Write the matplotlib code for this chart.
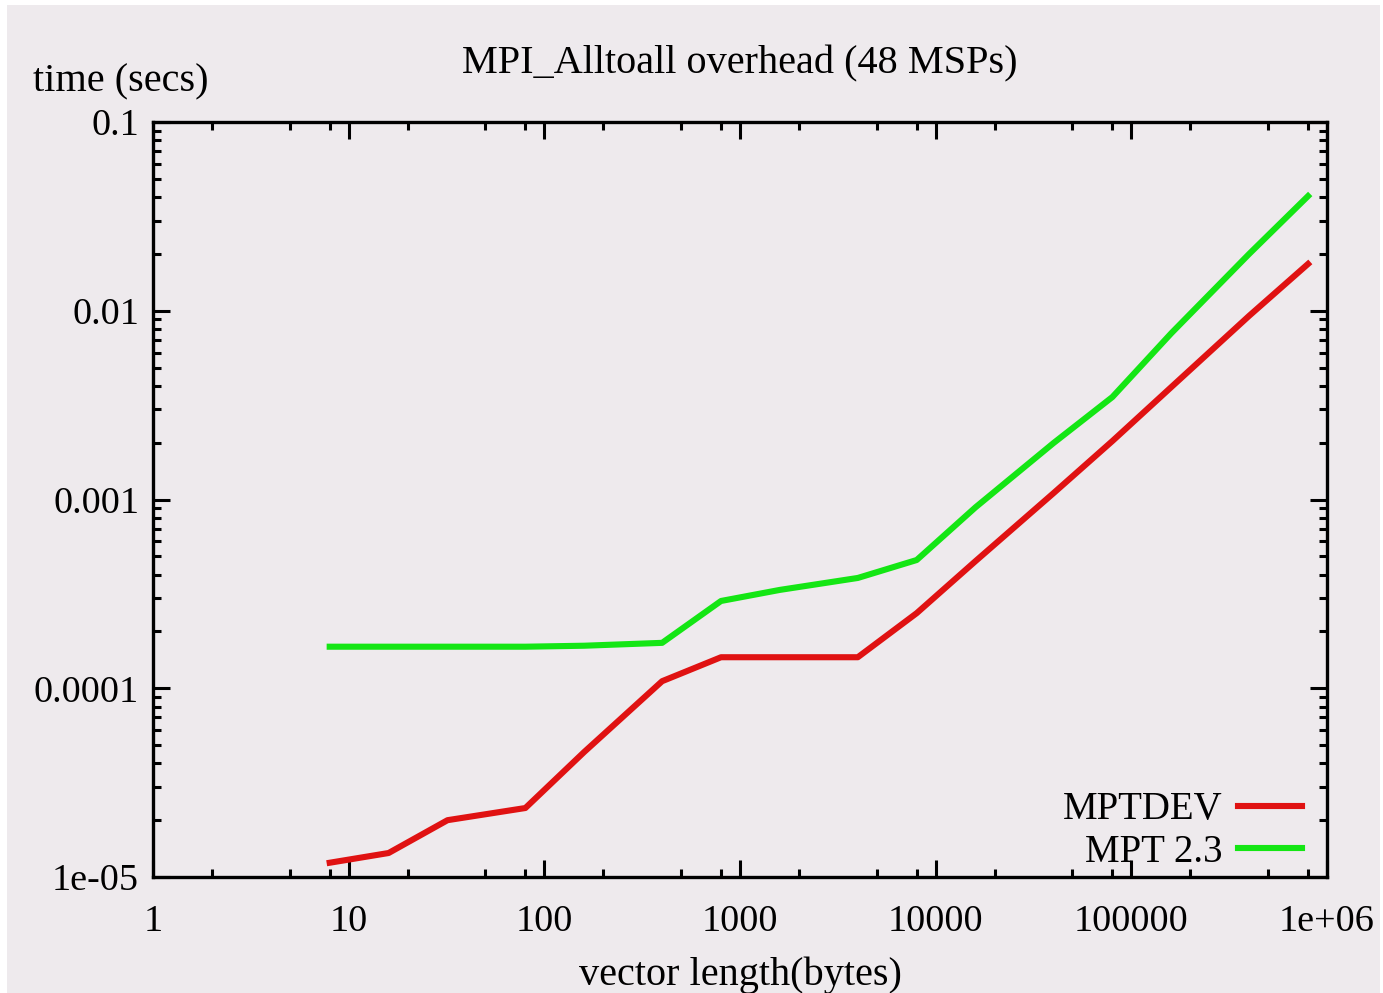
import numpy as np
import matplotlib
matplotlib.use("Agg")
from matplotlib import pyplot as plt
from matplotlib.ticker import LogLocator, FixedLocator, NullFormatter
from matplotlib.patches import Rectangle

# vector length in bytes
sizes = [8, 16, 32, 80, 160, 400, 800, 1600, 4000, 8000,
         16000, 40000, 80000, 160000, 400000, 800000]

# time in seconds
mptdev = [1.19e-5, 1.34e-5, 2.00e-5, 2.32e-5, 4.6e-5, 1.09e-4, 1.46e-4, 1.46e-4,
          1.46e-4, 2.50e-4, 4.72e-4, 1.08e-3, 2.04e-3, 3.94e-3, 9.4e-3, 1.77e-2]
mpt23 = [1.66e-4, 1.66e-4, 1.66e-4, 1.66e-4, 1.68e-4, 1.74e-4, 2.90e-4, 3.32e-4,
         3.84e-4, 4.78e-4, 9.1e-4, 1.99e-3, 3.49e-3, 7.6e-3, 2.0e-2, 4.05e-2]

x_ticks = [1, 10, 100, 1000, 10000, 100000, 1000000]
x_labels = ["1", "10", "100", "1000", "10000", "100000", "1e+06"]
y_ticks = [1e-5, 1e-4, 1e-3, 1e-2, 1e-1]
y_labels = ["1e-05", "0.0001", "0.001", "0.01", "0.1"]

bg = "#eeeaed"
plt.rcParams["font.family"] = ["Liberation Serif", "DejaVu Serif"]

fig = plt.figure(figsize=(13.83, 9.93), dpi=100, facecolor="white")
fig.patches.append(Rectangle((7 / 1383, 0), 1 - 10 / 1383, 1 - 5 / 993,
                             transform=fig.transFigure, facecolor=bg,
                             edgecolor="none", zorder=-10))
ax = fig.add_axes([153 / 1383, 1 - 877 / 993, 1174 / 1383, 755 / 993])
ax.set_facecolor(bg)

ax.plot(sizes, mptdev, color="#e01212", lw=4.4, label="MPTDEV")
ax.plot(sizes, mpt23, color="#14e614", lw=4.4, label="MPT 2.3")

ax.set_xscale("log")
ax.set_yscale("log")
ax.set_xlim(1, 1e6)
ax.set_ylim(1e-5, 0.1)

ax.xaxis.set_major_locator(FixedLocator(x_ticks))
ax.set_xticklabels(x_labels)
ax.xaxis.set_minor_locator(LogLocator(base=10, subs=(2, 5, 8)))
ax.xaxis.set_minor_formatter(NullFormatter())
ax.yaxis.set_major_locator(FixedLocator(y_ticks))
ax.set_yticklabels(y_labels)
ax.yaxis.set_minor_locator(LogLocator(base=10, subs=np.arange(2, 10)))
ax.yaxis.set_minor_formatter(NullFormatter())

ax.tick_params(which="both", direction="in", top=True, right=True,
               color="black", labelsize=27.5)
ax.tick_params(which="major", length=12, width=2.2)
ax.tick_params(which="minor", length=6, width=2.2)
ax.tick_params(axis="x", which="major", pad=20)
ax.tick_params(axis="y", which="major", pad=10)
for sp in ax.spines.values():
    sp.set_linewidth(2.4)
    sp.set_color("black")

fig.text(740 / 1383, 1 - 64 / 993, "MPI_Alltoall overhead (48 MSPs)",
         ha="center", va="center", fontsize=29)
fig.text(33 / 1383, 1 - 82 / 993, "time (secs)", ha="left", va="center", fontsize=29)
fig.text(740 / 1383, 1 - 975 / 993, "vector length(bytes)",
         ha="center", va="center", fontsize=29)

leg = ax.legend(loc="lower right", bbox_to_anchor=((1302 - 153) / 1174, 0.008),
                frameon=False, markerfirst=False, fontsize=28, handlelength=1.65,
                handletextpad=0.4, labelspacing=0.15, borderaxespad=0, borderpad=0)

fig.savefig("out.png", dpi=100, facecolor="white")
